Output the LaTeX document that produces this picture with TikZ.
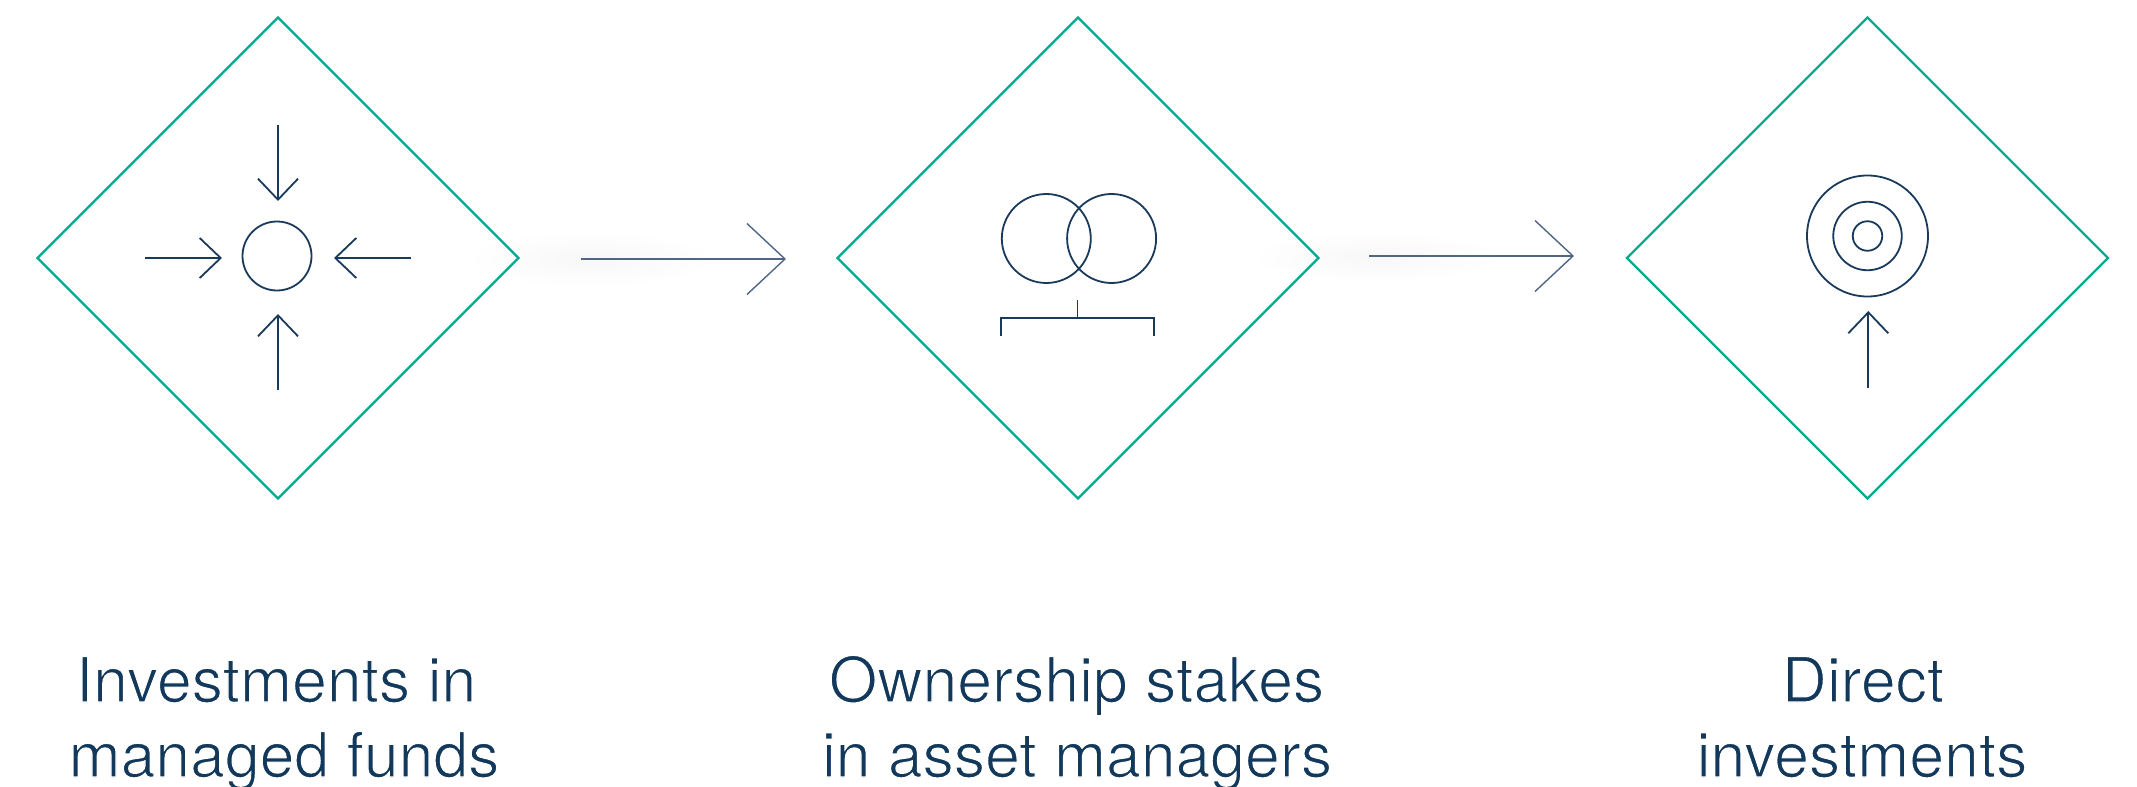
\documentclass[tikz,border=0pt]{standalone}
\usepackage{fontspec}
\setmainfont{TeX Gyre Heros}
\usetikzlibrary{shapes.geometric,arrows.meta}
\definecolor{teal}{HTML}{00AB8E}
\definecolor{navy}{HTML}{1A3A5C}
\definecolor{inktext}{HTML}{12395B}
\definecolor{linkgrey}{HTML}{4F6685}
\tikzset{
  frame/.style={shape=diamond,draw=teal,line width=2.4pt,minimum width=482pt,minimum height=482pt,inner sep=0pt,aspect=1},
  ring/.style={shape=circle,draw=navy,line width=1.8pt,inner sep=0pt},
  iconline/.style={draw=navy,line width=1.8pt},
  pointer/.style={iconline,-{Straight Barb[length=21pt,width=40pt,line width=1.8pt]}},
  link/.style={draw=linkgrey,line width=1.4pt,-{Straight Barb[length=38pt,width=71pt,line width=1.4pt]}},
  caption/.style={anchor=base,inner sep=0pt,text=inktext,font=\fontsize{62.5}{75}\selectfont},
  glow/.style={shape=ellipse,inner sep=0pt,inner color=black!3,outer color=white}
}
% thin the glyphs with a white outline, real text kept
\newcommand{\thintext}[1]{\special{pdf:code q 2 Tr 1 1 1 RG 1.2 w}#1\special{pdf:code 0 Tr Q}}
\begin{document}
\begin{tikzpicture}[x=1pt,y=-1pt]
\useasboundingbox (0,0) rectangle (2137,787);
\fill[white] (0,0) rectangle (2137,787);
% glows
\node[glow,minimum width=250pt,minimum height=56pt] (glowa) at (590,259) {};
\node[glow,minimum width=250pt,minimum height=50pt] (glowb) at (1375,257) {};
% frames
\node[frame] (fa) at (278,258) {};
\node[frame] (fb) at (1078,258) {};
\node[frame] (fc) at (1867.5,258) {};
% icon A
\node[ring,minimum size=69pt] (hub) at (277,256) {};
\coordinate (nt) at (278,124.5); \coordinate (ne) at (278,201);
\coordinate (st) at (278,390);   \coordinate (se) at (278,314);
\coordinate (wt) at (145,258); \coordinate (we) at (222,258);
\coordinate (et) at (411,258); \coordinate (ee) at (334,258);
\draw[pointer] (nt) -- (ne);
\draw[pointer] (st) -- (se);
\draw[pointer] (wt) -- (we);
\draw[pointer] (et) -- (ee);
% icon B
\node[ring,minimum size=89pt] (va) at (1046.3,238.5) {};
\node[ring,minimum size=89pt] (vb) at (1111.6,238.5) {};
\coordinate (bl) at (1001,336); \coordinate (br) at (1154,336);
\coordinate (bt) at (1077.5,300); \coordinate (bm) at (1077.5,318);
\draw[iconline] (bl) -- (bl |- bm) -- (br |- bm) -- (br);
\draw[iconline] (bt) -- (bm);
% icon C
\node[ring,minimum size=121pt] (ra) at (1867.5,236) {};
\node[ring,minimum size=68.5pt] (rb) at (1867.5,236) {};
\node[ring,minimum size=29.5pt] (rc) at (1867.5,236) {};
\coordinate (ct) at (1868.3,388); \coordinate (ce) at (1868.3,311);
\draw[pointer] (ct) -- (ce);
% links
\coordinate (la) at (581,259); \coordinate (lb) at (786,259);
\coordinate (lc) at (1369,256);  \coordinate (ld) at (1574,256);
\draw[link] (la) -- (lb);
\draw[link] (lc) -- (ld);
% captions
\node[caption] (c1) at (276,702) {\thintext{Investments in}};
\node[caption] (c2) at (284,777) {\thintext{managed funds}};
\node[caption] (c3) at (1076.5,702) {\thintext{Ownership stakes}};
\node[caption] (c4) at (1077,777) {\thintext{in asset managers}};
\node[caption] (c5) at (1863,702) {\thintext{Direct}};
\node[caption] (c6) at (1862,777) {\thintext{investments}};
\end{tikzpicture}
\end{document}
